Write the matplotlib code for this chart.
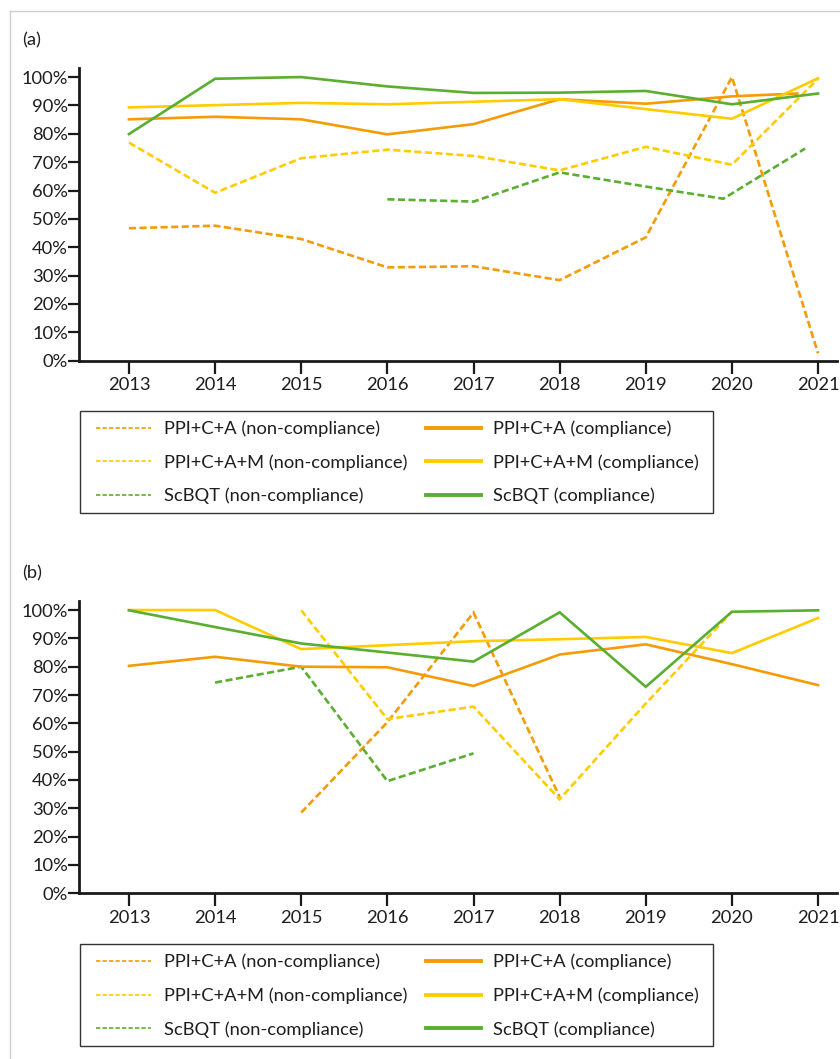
import matplotlib
matplotlib.use("Agg")
import matplotlib.pyplot as plt
from matplotlib.lines import Line2D
from matplotlib.patches import Rectangle
from matplotlib.ticker import FuncFormatter

plt.rcParams['font.family'] = ['Lato', 'DejaVu Sans']

# ---------------- data ----------------
years = [2013, 2014, 2015, 2016, 2017, 2018, 2019, 2020, 2021]
year_labels = ["2013", "2014", "2015", "2016", "2017", "2018", "2019", "2020", "2021"]
y_ticks = [0, 10, 20, 30, 40, 50, 60, 70, 80, 90, 100]

series_names = ["PPI+C+A", "PPI+C+A+M", "ScBQT"]

# Panel (a)
a_ppica_non_x = [2013, 2014, 2015, 2016, 2017, 2018, 2019, 2020, 2021]
a_ppica_non = [46.7, 47.6, 42.9, 32.9, 33.3, 28.4, 43.5, 100.0, 2.6]
a_ppicam_non_x = [2013, 2014, 2015, 2016, 2017, 2018, 2019, 2020, 2021]
a_ppicam_non = [76.9, 59.2, 71.4, 74.4, 72.2, 67.1, 75.4, 69.1, 99.4]
a_scbqt_non_x = [2016, 2017, 2018, 2019, 2019.9, 2020.85]
a_scbqt_non = [56.9, 56.1, 66.4, 61.4, 57.1, 74.8]
a_ppica_comp_x = [2013, 2014, 2015, 2016, 2017, 2018, 2019, 2020, 2020.76]
a_ppica_comp = [85.1, 86.0, 85.1, 79.8, 83.4, 92.2, 90.6, 93.2, 94.2]
a_ppicam_comp_x = [2013, 2014, 2015, 2016, 2017, 2018, 2019, 2020, 2021]
a_ppicam_comp = [89.3, 90.1, 90.9, 90.4, 91.3, 92.2, 88.7, 85.3, 99.6]
a_scbqt_comp_x = [2013, 2014, 2015, 2016, 2017, 2018, 2019, 2020, 2021]
a_scbqt_comp = [79.9, 99.4, 100.0, 96.7, 94.4, 94.5, 95.1, 90.4, 94.2]

# Panel (b)
b_ppica_non_x = [2015, 2016, 2017, 2018]
b_ppica_non = [28.5, 60.4, 99.1, 34.0]
b_ppicam_non_x = [2015, 2016, 2017, 2018, 2019, 2020]
b_ppicam_non = [99.9, 61.5, 65.9, 33.2, 67.0, 99.4]
b_scbqt_non_x = [2014, 2015, 2016, 2017]
b_scbqt_non = [74.4, 80.0, 39.6, 49.4]
b_ppica_comp_x = [2013, 2014, 2015, 2016, 2017, 2018, 2019, 2020, 2021]
b_ppica_comp = [80.3, 83.5, 80.0, 79.8, 73.2, 84.3, 87.9, 80.9, 73.5]
b_ppicam_comp_x = [2013, 2014, 2015, 2016, 2017, 2018, 2019, 2020, 2021]
b_ppicam_comp = [100.0, 100.0, 86.2, 87.6, 89.0, 89.7, 90.5, 84.8, 97.2]
b_scbqt_comp_x = [2013, 2014, 2015, 2016, 2017, 2018, 2019, 2020, 2021]
b_scbqt_comp = [99.9, 94.0, 88.2, 85.0, 81.8, 99.2, 72.9, 99.4, 99.9]

# ---------------- style ----------------
ORANGE = "#F49B08"
YELLOW = "#FFCC00"
GREEN = "#5AAE30"
colors = [ORANGE, YELLOW, GREEN]

W, H = 840, 1059
fig = plt.figure(figsize=(W / 100, H / 100), dpi=100)

FS = 13.2
LW = 1.9
DASH = (2.7, 1.3)


def fx(px):
    return px / W


def fy(py):
    return 1 - py / H


def setup_axes(ax):
    ax.set_xlim(2012.42, 2021.22)
    ax.set_ylim(0, 103.3)
    for s in ["top", "right"]:
        ax.spines[s].set_visible(False)
    for s in ["left", "bottom"]:
        ax.spines[s].set_linewidth(2.0)
        ax.spines[s].set_color("#1a1a1a")
    ax.set_xticks(years)
    ax.set_xticklabels(year_labels)
    ax.set_yticks(y_ticks)
    ax.yaxis.set_major_formatter(FuncFormatter(lambda v, p: f"{int(v)}%"))
    ax.tick_params(axis="y", length=8, width=1.6, pad=0, labelsize=FS, colors="#1a1a1a")
    ax.tick_params(axis="x", length=9, width=1.6, pad=3, labelsize=FS, colors="#1a1a1a")
    for lab in ax.get_xticklabels() + ax.get_yticklabels():
        lab.set_color("#1e1e1e")


def draw_panel(ax, non, comp):
    for (x, y), c in zip(non, colors):
        ax.plot(x, y, color=c, lw=LW, linestyle=(0, DASH), dash_capstyle="butt",
                dash_joinstyle="miter", zorder=2)
    for (x, y), c in zip(comp, colors):
        ax.plot(x, y, color=c, lw=LW, solid_joinstyle="miter", zorder=3)


def add_legend(box_top):
    # frame drawn explicitly to match reference box
    fig.add_artist(Rectangle((fx(79.5), fy(box_top + 102)), fx(712.5) - fx(79.5),
                             fy(box_top) - fy(box_top + 102), transform=fig.transFigure,
                             fill=False, edgecolor="#333333", lw=1.0))
    handles = []
    labels = []
    for n, c in zip(series_names, colors):
        handles.append(Line2D([], [], color=c, lw=1.2, linestyle=(0, (2.6, 1.3))))
        labels.append(f"{n} (non-compliance)")
    for n, c in zip(series_names, colors):
        handles.append(Line2D([], [], color=c, lw=2.8))
        labels.append(f"{n} (compliance)")
    leg = fig.legend(handles, labels, ncol=2, loc="upper left",
                     bbox_to_anchor=(fx(96), fy(box_top + 9.5)), bbox_transform=fig.transFigure,
                     fontsize=FS, frameon=False, borderaxespad=0, borderpad=0,
                     handlelength=3.0, handletextpad=0.7, columnspacing=1.0,
                     labelspacing=0.93)
    for t in leg.get_texts():
        t.set_color("#1e1e1e")
    return leg


# Panel (a)
ax_a = fig.add_axes([fx(79), fy(360.7), fx(837) - fx(79), fy(67.7) - fy(360.7)])
setup_axes(ax_a)
draw_panel(ax_a,
           [(a_ppica_non_x, a_ppica_non), (a_ppicam_non_x, a_ppicam_non), (a_scbqt_non_x, a_scbqt_non)],
           [(a_ppica_comp_x, a_ppica_comp), (a_ppicam_comp_x, a_ppicam_comp), (a_scbqt_comp_x, a_scbqt_comp)])
add_legend(411)

# Panel (b)
ax_b = fig.add_axes([fx(79), fy(893.3), fx(837) - fx(79), fy(600.7) - fy(893.3)])
setup_axes(ax_b)
draw_panel(ax_b,
           [(b_ppica_non_x, b_ppica_non), (b_ppicam_non_x, b_ppicam_non), (b_scbqt_non_x, b_scbqt_non)],
           [(b_ppica_comp_x, b_ppica_comp), (b_ppicam_comp_x, b_ppicam_comp), (b_scbqt_comp_x, b_scbqt_comp)])
add_legend(944.3)

# panel labels
fig.text(fx(22), fy(40), "(a)", fontsize=FS, ha="left", va="center", color="#1e1e1e")
fig.text(fx(22), fy(573), "(b)", fontsize=FS, ha="left", va="center", color="#1e1e1e")

# light frame (top and left)
fig.add_artist(Line2D([fx(9.5), 1.0], [fy(10.5), fy(10.5)], color="#cfcfcf", lw=1.0,
                      transform=fig.transFigure))
fig.add_artist(Line2D([fx(9.5), fx(9.5)], [fy(10.5), 0.0], color="#cfcfcf", lw=1.0,
                      transform=fig.transFigure))

fig.savefig("out.png", dpi=100)
